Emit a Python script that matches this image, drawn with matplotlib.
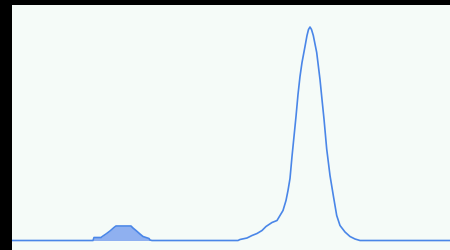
import numpy as np
import matplotlib.pyplot as plt

# retention time (arbitrary units) and detector signal
t = [0, 81, 82, 89, 91, 94, 98, 102, 104, 119, 121, 124, 128, 131, 134, 137, 138, 140,
     226, 228, 235, 240, 245, 250, 254, 260, 265, 268, 271, 274, 276, 278, 280, 282,
     284, 286, 288, 290, 293, 295, 296.5, 298, 299.5, 301.3, 304.7, 308, 310, 312,
     314.7, 318, 321.3, 324.7, 328, 333, 338, 343, 348, 438]
signal = [0, 0, 3, 3, 4.5, 6.5, 9.5, 13, 14.5, 14.5, 12.5, 10, 6.5, 4, 3, 2, 0.5, 0,
          0, 1, 2.5, 5, 7, 10, 14, 18, 20, 25, 30, 40, 50, 62, 84, 104,
          124, 146, 164, 178, 194, 205, 211, 213.5, 211, 205, 188, 161, 141, 121.5,
          91.5, 65, 45, 25, 15, 8.5, 4, 1.5, 0, 0]
# integrated window (minor peak)
win_start, win_end = 81, 138

t = np.array(t, dtype=float)
signal = np.array(signal, dtype=float)

fig = plt.figure(figsize=(4.5, 2.51), dpi=100, facecolor='black')
ax = fig.add_axes([12 / 450, 0, 438 / 450, 245 / 251])
ax.set_facecolor('#f5fbf8')

mask = (t >= win_start) & (t <= win_end)
ax.fill_between(t[mask], 0, signal[mask], color='#8fb0f0', lw=0)
ax.plot(t, signal, color='#4a86e8', lw=1.2)

ax.set_xlim(0, 438)
ax.set_ylim(-9.5, 235.5)
for s in ax.spines.values():
    s.set_visible(False)
ax.set_xticks([])
ax.set_yticks([])

fig.savefig('out.png', dpi=100, facecolor='black')
